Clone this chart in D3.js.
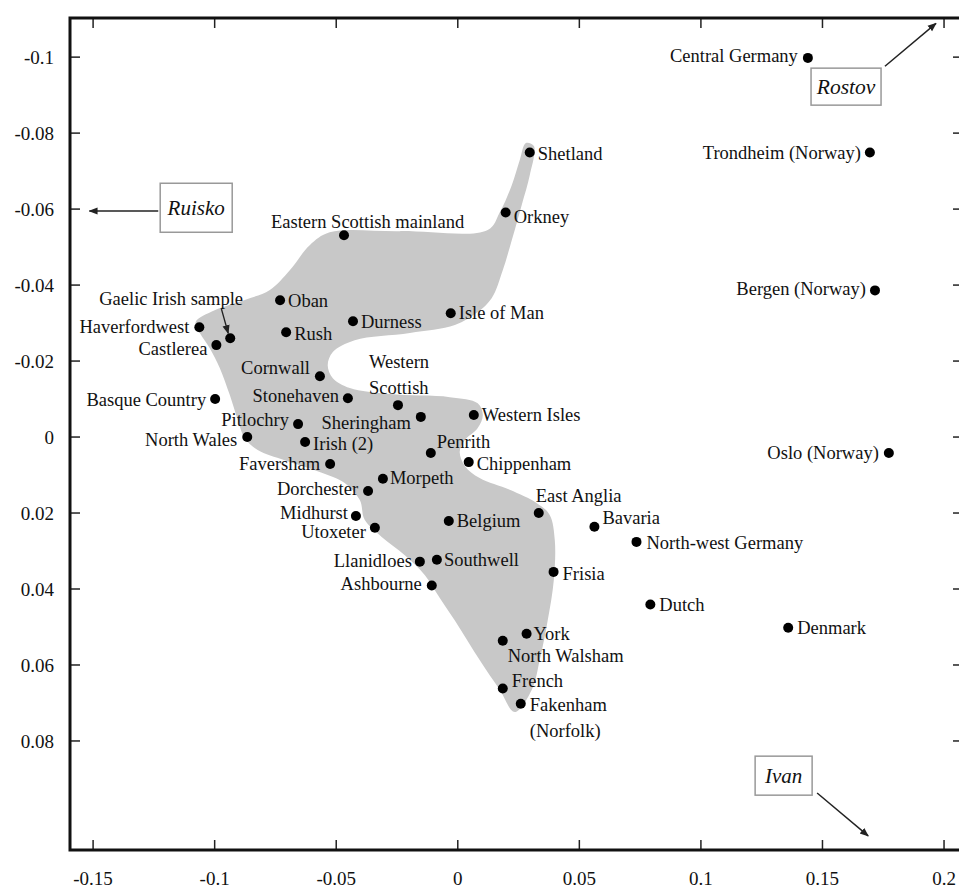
<!DOCTYPE html>
<html>
<head>
<meta charset="utf-8">
<script src="https://cdn.jsdelivr.net/npm/d3@7/dist/d3.min.js"></script>
<style>
  html, body { margin: 0; padding: 0; background: #fff; }
  svg { display: block; }
  text { font-family: "Liberation Serif", "Times New Roman", serif; fill: #111; }
</style>
</head>
<body>
<svg id="chart" width="959" height="888"></svg>
<script>
// Population samples: first two principal-component coordinates
const names = [
  "Central Germany", "Shetland", "Trondheim (Norway)", "Orkney", "Bergen (Norway)",
  "Eastern Scottish mainland", "Oban", "Haverfordwest", "Gaelic Irish sample", "Castlerea",
  "Rush", "Durness", "Isle of Man", "Cornwall", "Stonehaven", "Basque Country",
  "Western Scottish", "Sheringham", "Western Isles", "Pitlochry", "North Wales",
  "Irish (2)", "Penrith", "Chippenham", "Faversham", "Morpeth", "Dorchester",
  "Midhurst", "Belgium", "Utoxeter", "Llanidloes", "Southwell", "Oslo (Norway)",
  "East Anglia", "Bavaria", "North-west Germany", "Frisia", "Ashbourne", "Dutch",
  "Denmark", "York", "North Walsham", "French", "Fakenham (Norfolk)"
];
const pc1 = [
  0.1440, 0.0296, 0.1695, 0.0197, 0.1716,
  -0.0468, -0.0731, -0.1063, -0.0936, -0.0993,
  -0.0706, -0.0431, -0.0029, -0.0567, -0.0452, -0.0998,
  -0.0246, -0.0152, 0.0066, -0.0657, -0.0866,
  -0.0628, -0.0111, 0.0045, -0.0525, -0.0308, -0.0369,
  -0.0419, -0.0037, -0.0341, -0.0156, -0.0086, 0.1773,
  0.0333, 0.0562, 0.0735, 0.0394, -0.0107, 0.0792,
  0.1359, 0.0283, 0.0185, 0.0185, 0.0259
];
const pc2 = [
  -0.0998, -0.0749, -0.0749, -0.0591, -0.0386,
  -0.0531, -0.0360, -0.0289, -0.0260, -0.0242,
  -0.0276, -0.0305, -0.0326, -0.0160, -0.0102, -0.0100,
  -0.0084, -0.0053, -0.0058, -0.0034, 0.0000,
  0.0013, 0.0042, 0.0066, 0.0071, 0.0110, 0.0142,
  0.0208, 0.0221, 0.0239, 0.0328, 0.0323, 0.0042,
  0.0200, 0.0236, 0.0276, 0.0355, 0.0391, 0.0441,
  0.0502, 0.0518, 0.0536, 0.0662, 0.0702
];

// Outline of the shaded British/Irish cluster (PC1, PC2), traced clockwise
const regionPc1 = [
  -0.1078, -0.1000, -0.0876, -0.0773, -0.0691, -0.0609, -0.0527, -0.0239, 0.0123, 0.0173,
  0.0222, 0.0255, 0.0280, 0.0313, 0.0296, 0.0263, 0.0222, 0.0185, 0.0140, 0.0082,
  -0.0012, -0.0197, -0.0424, -0.0514, -0.0535, -0.0514, -0.0444, -0.0280, -0.0033, 0.0082,
  0.0103, 0.0082, 0.0029, 0.0008, 0.0029, 0.0090, 0.0214, 0.0325, 0.0378, 0.0399,
  0.0395, 0.0370, 0.0337, 0.0304, 0.0234, 0.0173, 0.0090, 0.0008, -0.0074, -0.0136,
  -0.0218, -0.0313, -0.0383, -0.0403, -0.0465, -0.0568, -0.0712, -0.0823, -0.0876, -0.0905,
  -0.0938, -0.0979, -0.1020, -0.1061
];
const regionPc2 = [
  -0.0303, -0.0334, -0.0361, -0.0387, -0.0439, -0.0505, -0.0539, -0.0542, -0.0545, -0.0592,
  -0.0663, -0.0729, -0.0774, -0.0766, -0.0689, -0.0611, -0.0518, -0.0439, -0.0366, -0.0329,
  -0.0295, -0.0274, -0.0255, -0.0224, -0.0189, -0.0155, -0.0129, -0.0113, -0.0105, -0.0089,
  -0.0058, -0.0024, 0.0008, 0.0039, 0.0076, 0.0108, 0.0139, 0.0174, 0.0205, 0.0271,
  0.0376, 0.0482, 0.0587, 0.0666, 0.0724, 0.0666, 0.0587, 0.0503, 0.0424, 0.0363,
  0.0311, 0.0263, 0.0218, 0.0166, 0.0121, 0.0092, 0.0061, 0.0034, 0.0003, -0.0045,
  -0.0111, -0.0182, -0.0234, -0.0274
];

// Axis ticks
const xTicks = [-0.15, -0.1, -0.05, 0, 0.05, 0.1, 0.15, 0.2];
const xTickLabels = ["-0.15", "-0.1", "-0.05", "0", "0.05", "0.1", "0.15", "0.2"];
const yTicks = [-0.1, -0.08, -0.06, -0.04, -0.02, 0, 0.02, 0.04, 0.06, 0.08];
const yTickLabels = ["-0.1", "-0.08", "-0.06", "-0.04", "-0.02", "0", "0.02", "0.04", "0.06", "0.08"];

// Off-chart reference individuals
const outliers = ["Ruisko", "Rostov", "Ivan"];

// ---------- layout ----------
const svg = d3.select("#chart");
const plotL = 70, plotR = 963, plotT = 18, plotB = 850;

const x = d3.scaleLinear().domain([-0.1595, 0.2078]).range([plotL, plotR]);
const y = d3.scaleLinear().domain([-0.1103, 0.1087]).range([plotT, plotB]);

// Label placement: anchor, offset from the dot (px)
const place = {
  "Central Germany": ["end", -10, -2],
  "Shetland": ["start", 8, 1],
  "Trondheim (Norway)": ["end", -9, 0],
  "Orkney": ["start", 8, 4],
  "Bergen (Norway)": ["end", -9, -2],
  "Eastern Scottish mainland": ["start", -73, -14],
  "Oban": ["start", 8, 0],
  "Haverfordwest": ["end", -10, -1],
  "Gaelic Irish sample": ["start", -131, -40],
  "Castlerea": ["end", -9, 3],
  "Rush": ["start", 8, 1],
  "Durness": ["start", 8, 0],
  "Isle of Man": ["start", 8, -1],
  "Cornwall": ["end", -10, -9],
  "Stonehaven": ["end", -9, -3],
  "Basque Country": ["end", -9, 0],
  "Western Scottish": ["start", -29, -44],
  "Sheringham": ["end", -10, 6],
  "Western Isles": ["start", 8, 0],
  "Pitlochry": ["end", -9, -5],
  "North Wales": ["end", -10, 2],
  "Irish (2)": ["start", 8, 2],
  "Penrith": ["start", 6, -11],
  "Chippenham": ["start", 8, 1],
  "Faversham": ["end", -10, 0],
  "Morpeth": ["start", 7, -1],
  "Dorchester": ["end", -10, -2],
  "Midhurst": ["end", -8, -4],
  "Belgium": ["start", 8, 0],
  "Utoxeter": ["end", -9, 4],
  "Llanidloes": ["end", -8, -1],
  "Southwell": ["start", 7, 0],
  "Oslo (Norway)": ["end", -10, 0],
  "East Anglia": ["start", -3, -17],
  "Bavaria": ["start", 8, -9],
  "North-west Germany": ["start", 10, 1],
  "Frisia": ["start", 9, 2],
  "Ashbourne": ["end", -10, -2],
  "Dutch": ["start", 9, 0],
  "Denmark": ["start", 9, 0],
  "York": ["start", 7, 0],
  "North Walsham": ["start", 5, 15],
  "French": ["start", 9, -8],
  "Fakenham (Norfolk)": ["start", 9, 1]
};
// Names drawn over two lines
const lineBreaks = {
  "Western Scottish": ["Western", "Scottish"],
  "Fakenham (Norfolk)": ["Fakenham", "(Norfolk)"]
};

const defs = svg.append("defs");
defs.append("marker")
  .attr("id", "head")
  .attr("viewBox", "0 0 10 10")
  .attr("refX", 9).attr("refY", 5)
  .attr("markerWidth", 9).attr("markerHeight", 9)
  .attr("markerUnits", "userSpaceOnUse")
  .attr("orient", "auto")
  .append("path").attr("d", "M0,1 L10,5 L0,9 Z").attr("fill", "#222");

// Shaded cluster
const region = d3.range(regionPc1.length).map(i => [regionPc1[i], regionPc2[i]]);
svg.append("path")
  .attr("d", d3.line().x(d => x(d[0])).y(d => y(d[1])).curve(d3.curveCatmullRomClosed.alpha(0.5))(region))
  .attr("fill", "#c8c8c8");

// Axes frame and ticks
const axes = svg.append("g");
const tickLen = 10;
axes.selectAll(".xb").data(xTicks).join("line")
  .attr("x1", d => x(d)).attr("x2", d => x(d))
  .attr("y1", plotB).attr("y2", plotB - tickLen)
  .attr("stroke", "#222").attr("stroke-width", 1.5);
axes.selectAll(".xt").data(xTicks).join("line")
  .attr("x1", d => x(d)).attr("x2", d => x(d))
  .attr("y1", plotT).attr("y2", plotT + tickLen)
  .attr("stroke", "#222").attr("stroke-width", 1.5);
axes.selectAll(".yl").data(yTicks).join("line")
  .attr("x1", plotL).attr("x2", plotL + tickLen)
  .attr("y1", d => y(d)).attr("y2", d => y(d))
  .attr("stroke", "#222").attr("stroke-width", 1.5);
axes.selectAll(".yr").data(yTicks).join("line")
  .attr("x1", plotR).attr("x2", plotR - tickLen)
  .attr("y1", d => y(d)).attr("y2", d => y(d))
  .attr("stroke", "#222").attr("stroke-width", 1.5);

axes.append("rect")
  .attr("x", plotL).attr("y", plotT)
  .attr("width", plotR - plotL).attr("height", plotB - plotT)
  .attr("fill", "none").attr("stroke", "#111").attr("stroke-width", 3);

axes.selectAll(".xlab").data(xTicks).join("text")
  .attr("x", d => x(d)).attr("y", plotB + 35)
  .attr("text-anchor", "middle").attr("font-size", 19)
  .text((d, i) => xTickLabels[i]);
axes.selectAll(".ylab").data(yTicks).join("text")
  .attr("x", 54).attr("y", d => y(d)).attr("dy", "0.35em")
  .attr("text-anchor", "end").attr("font-size", 19)
  .text((d, i) => yTickLabels[i]);

// Points
const pts = d3.range(names.length).map(i => ({ name: names[i], px: pc1[i], py: pc2[i] }));
svg.append("g").selectAll("circle").data(pts).join("circle")
  .attr("cx", d => x(d.px)).attr("cy", d => y(d.py)).attr("r", 5)
  .attr("fill", "#000");

// Point labels
const labels = svg.append("g").attr("font-size", 18.5);
pts.forEach(d => {
  const [anchor, dx, dy] = place[d.name];
  const lines = lineBreaks[d.name] || [d.name];
  const t = labels.append("text")
    .attr("text-anchor", anchor)
    .attr("x", x(d.px) + dx)
    .attr("y", y(d.py) + dy);
  lines.forEach((s, k) => {
    t.append("tspan").attr("x", x(d.px) + dx).attr("dy", k === 0 ? "0.35em" : 26).text(s);
  });
});

// Pointer for the Gaelic Irish sample label
const gaelic = pts.find(d => d.name === "Gaelic Irish sample");
svg.append("line")
  .attr("x1", x(gaelic.px) - 9).attr("y1", y(gaelic.py) - 30)
  .attr("x2", x(gaelic.px) - 2).attr("y2", y(gaelic.py) - 5)
  .attr("stroke", "#222").attr("stroke-width", 1.3)
  .attr("marker-end", "url(#head)");

// Boxed outlier tags with arrows pointing off the plotted range
const tags = [
  { name: outliers[0], bx: -0.1224, by: -0.0668, w: 72, h: 49, fs: 21,
    a: [[-0.1232, -0.0595], [-0.1515, -0.0595]] },
  { name: outliers[1], bx: 0.1453, by: -0.0971, w: 70, h: 37, fs: 21.5,
    a: [[0.1757, -0.0976], [0.1967, -0.1089]] },
  { name: outliers[2], bx: 0.1223, by: 0.0840, w: 57, h: 39, fs: 21,
    a: [[0.1478, 0.0937], [0.1688, 0.1050]] }
];
tags.forEach(t => {
  const bx = x(t.bx), by = y(t.by);
  svg.append("rect")
    .attr("x", bx).attr("y", by).attr("width", t.w).attr("height", t.h)
    .attr("fill", "#fff").attr("stroke", "#999").attr("stroke-width", 1.5);
  svg.append("text")
    .attr("x", bx + t.w / 2).attr("y", by + t.h / 2).attr("dy", "0.35em")
    .attr("text-anchor", "middle").attr("font-size", t.fs).attr("font-style", "italic")
    .text(t.name);
  svg.append("line")
    .attr("x1", x(t.a[0][0])).attr("y1", y(t.a[0][1]))
    .attr("x2", x(t.a[1][0])).attr("y2", y(t.a[1][1]))
    .attr("stroke", "#222").attr("stroke-width", 1.5)
    .attr("marker-end", "url(#head)");
});
</script>
</body>
</html>
